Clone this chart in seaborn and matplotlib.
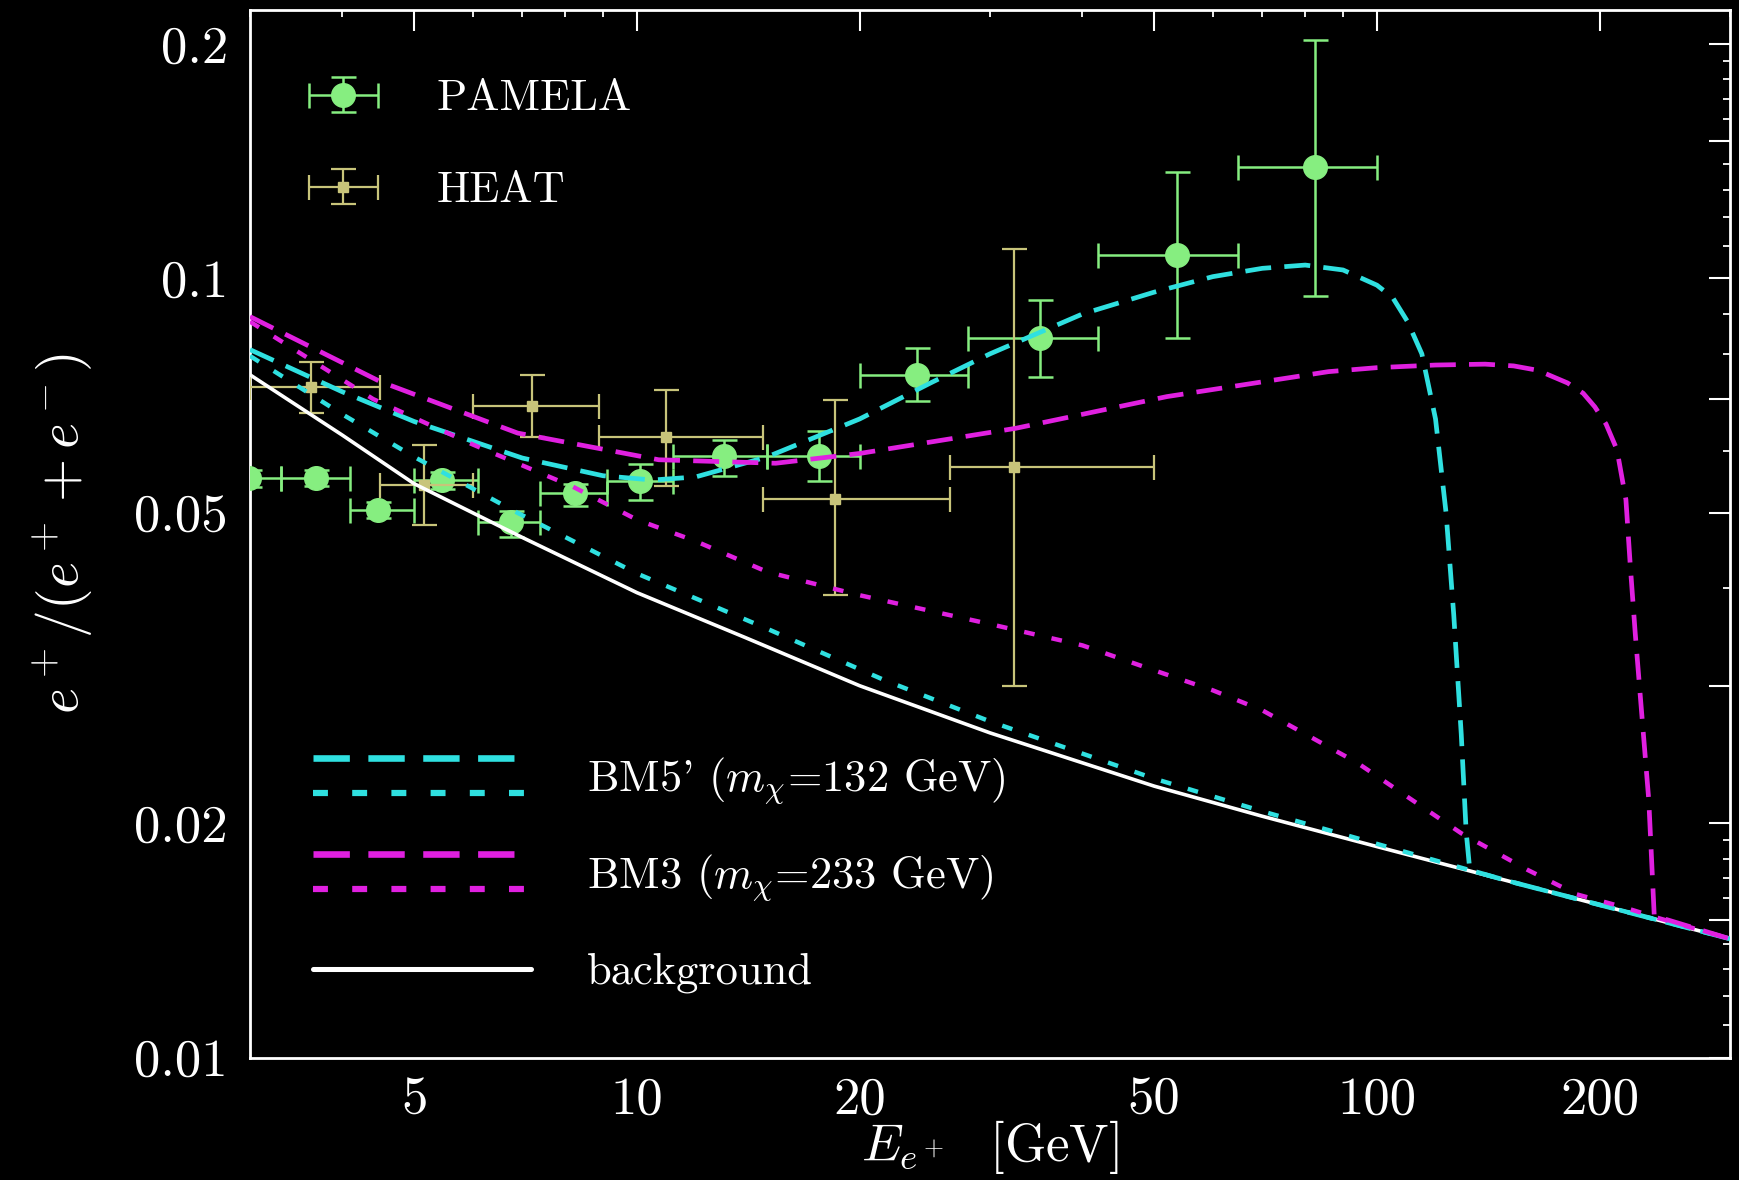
import numpy as np
import pandas as pd
import matplotlib
matplotlib.use("Agg")
import matplotlib.pyplot as plt
import seaborn as sns
from matplotlib.lines import Line2D
from matplotlib.legend_handler import HandlerBase, HandlerErrorbar
from matplotlib.container import ErrorbarContainer
from matplotlib.ticker import NullFormatter

# ---------------- data ----------------
pamela_E = [2.99, 3.68, 4.47, 5.45, 6.76, 8.25, 10.1, 13.1, 17.6, 23.9, 35.0, 53.6, 82.4]
pamela_E_lo = [2.7, 3.3, 4.1, 5.0, 6.1, 7.4, 9.1, 11.2, 15.0, 20.0, 28.0, 42.0, 65.0]
pamela_E_hi = [3.3, 4.1, 5.0, 6.1, 7.4, 9.1, 11.2, 15.0, 20.0, 28.0, 42.0, 65.0, 100.0]
pamela_frac = [0.0554, 0.0554, 0.0505, 0.0551, 0.0486, 0.0530, 0.0549, 0.0592, 0.0592, 0.0752, 0.0838, 0.1070, 0.1390]
pamela_lo = [0.0540, 0.0541, 0.0493, 0.0537, 0.0466, 0.0510, 0.0519, 0.0557, 0.0550, 0.0695, 0.0747, 0.0838, 0.0949]
pamela_hi = [0.0568, 0.0567, 0.0517, 0.0565, 0.0503, 0.0545, 0.0578, 0.0621, 0.0637, 0.0815, 0.0938, 0.1370, 0.2025]

heat_E = [3.63, 5.15, 7.22, 10.96, 18.5, 32.3]
heat_E_lo = [3.0, 4.5, 6.0, 8.9, 14.8, 26.5]
heat_E_hi = [4.5, 6.0, 8.9, 14.8, 26.5, 50.0]
heat_frac = [0.0726, 0.0543, 0.0685, 0.0625, 0.0521, 0.0572]
heat_lo = [0.0671, 0.0482, 0.0626, 0.0541, 0.0392, 0.0300]
heat_hi = [0.0782, 0.0611, 0.0751, 0.0719, 0.0699, 0.1090]

bkg_E = [3, 4, 5, 7, 10, 14, 20, 30, 50, 70, 100, 150, 200, 300]
bkg_frac = [0.0752, 0.0629, 0.0545, 0.0465, 0.0395, 0.0346, 0.0300, 0.0261, 0.0223, 0.0204,
            0.01865, 0.01686, 0.0157, 0.0142]

bm5_long_E = [3, 4, 5, 7, 9, 10.5, 12, 15, 20, 25, 30, 40, 50, 60, 70, 80, 90, 100, 105, 110,
              115, 120, 124, 127, 130, 132, 133.5, 150, 200, 300]
bm5_long_frac = [0.0810, 0.0715, 0.0655, 0.0588, 0.0558, 0.0551, 0.0556, 0.0590, 0.0660, 0.0735,
                 0.0800, 0.0900, 0.0960, 0.1005, 0.1030, 0.1040, 0.1025, 0.0980, 0.0945, 0.0880,
                 0.0800, 0.0660, 0.0500, 0.0370, 0.0260, 0.0195, 0.0174, 0.01686, 0.0157, 0.0142]

bm5_short_E = [3, 4, 5, 6.9, 10, 15, 21.6, 30, 50, 70, 100, 150, 200, 300]
bm5_short_frac = [0.0795, 0.0669, 0.0590, 0.0500, 0.0418, 0.0355, 0.0305, 0.0270, 0.0228, 0.0207,
                  0.0188, 0.01686, 0.0157, 0.0142]

bm3_long_E = [3, 4.5, 6.9, 10.7, 15.4, 20, 32.5, 52, 86, 100, 120, 140, 153, 165, 181, 190, 197,
              204, 211, 217, 220, 223.4, 227, 233, 237, 300]
bm3_long_frac = [0.0893, 0.0737, 0.0633, 0.0585, 0.0579, 0.0596, 0.0642, 0.0705, 0.0759, 0.0768,
                 0.0774, 0.0776, 0.0772, 0.0762, 0.0734, 0.0712, 0.0684, 0.0650, 0.0603, 0.0520,
                 0.0427, 0.0350, 0.0290, 0.0214, 0.0152, 0.0142]

bm3_short_E = [3, 4.4, 6, 8.2, 10, 12, 15, 20, 30, 40, 50, 60, 70, 94, 110, 130, 160, 186, 215, 240, 300]
bm3_short_frac = [0.0880, 0.0700, 0.0612, 0.0540, 0.0490, 0.0460, 0.0420, 0.0392, 0.0360, 0.0338,
                  0.0314, 0.0296, 0.0279, 0.0239, 0.0216, 0.0194, 0.0174, 0.0162, 0.0156, 0.0151, 0.0142]

x_major = [5, 10, 20, 50, 100, 200]
x_major_labels = ["5", "10", "20", "50", "100", "200"]
x_minor = [3, 4, 6, 7, 8, 9, 30, 40, 60, 70, 80, 90, 300]
y_major = [0.01, 0.015, 0.02, 0.03, 0.05, 0.07, 0.1, 0.15, 0.2]
y_major_labels = ["0.01", "", "0.02", "", "0.05", "", "0.1", "", "0.2"]
y_minor = [0.011, 0.012, 0.013, 0.014, 0.016, 0.017, 0.018, 0.019, 0.04, 0.06, 0.08, 0.09,
           0.11, 0.12, 0.13, 0.14, 0.16, 0.17, 0.18, 0.19]

bm5_label = r"BM5' ($m_\chi$=132 GeV)"
bm3_label = r"BM3 ($m_\chi$=233 GeV)"
bkg_label = "background"

# ---------------- style ----------------
sns.set_theme(style="dark")
plt.rcParams.update({
    "figure.facecolor": "black", "axes.facecolor": "black", "savefig.facecolor": "black",
    "axes.edgecolor": "white", "text.color": "white", "axes.labelcolor": "white",
    "xtick.color": "white", "ytick.color": "white", "axes.grid": False,
    "mathtext.fontset": "cm", "axes.unicode_minus": False,
})
plt.rcParams["font.family"] = ["cmr10", "DejaVu Serif"]

GREEN = "#86ee80"
KHAKI = "#c8c47a"
CYAN = "#2fe0e0"
MAGENTA = "#e020e0"

fig = plt.figure(figsize=(17.4, 11.8), dpi=100)
ax = fig.add_axes([250 / 1740, 1 - 1057.5 / 1180, 1480 / 1740, 1047.5 / 1180])
ax.set_xscale("log")
ax.set_yscale("log")

# data points
pE = np.array(pamela_E); pf = np.array(pamela_frac)
pam = ax.errorbar(pE, pf,
                  xerr=[pE - np.array(pamela_E_lo), np.array(pamela_E_hi) - pE],
                  yerr=[pf - np.array(pamela_lo), np.array(pamela_hi) - pf],
                  fmt="o", color=GREEN, ms=17, elinewidth=1.8, capsize=9, capthick=1.8,
                  zorder=3)
hE = np.array(heat_E); hf = np.array(heat_frac)
heat = ax.errorbar(hE, hf,
                   xerr=[hE - np.array(heat_E_lo), np.array(heat_E_hi) - hE],
                   yerr=[hf - np.array(heat_lo), np.array(heat_hi) - hf],
                   fmt="s", color=KHAKI, ms=7, elinewidth=1.6, capsize=9, capthick=1.6,
                   zorder=4)

# model curves
DASH = (0, (5.5, 2.8))
DOT = (0, (2.4, 3.9))
sns.lineplot(x=bkg_E, y=bkg_frac, ax=ax, color="white", lw=2.6, zorder=5, estimator=None)
l_bg = ax.get_lines()[-1]
sns.lineplot(x=bm5_short_E, y=bm5_short_frac, ax=ax, color=CYAN, lw=3.2, linestyle=DOT,
             zorder=6, estimator=None)
l_c2 = ax.get_lines()[-1]
sns.lineplot(x=bm5_long_E, y=bm5_long_frac, ax=ax, color=CYAN, lw=3.4, linestyle=DASH,
             zorder=6, estimator=None)
l_c1 = ax.get_lines()[-1]
sns.lineplot(x=bm3_short_E, y=bm3_short_frac, ax=ax, color=MAGENTA, lw=3.2, linestyle=DOT,
             zorder=7, estimator=None)
l_m2 = ax.get_lines()[-1]
sns.lineplot(x=bm3_long_E, y=bm3_long_frac, ax=ax, color=MAGENTA, lw=3.4, linestyle=DASH,
             zorder=7, estimator=None)
l_m1 = ax.get_lines()[-1]

ax.set_xlim(3, 300)
ax.set_ylim(0.01, 0.221)

# ticks
ax.set_xticks(x_major, labels=x_major_labels)
ax.set_xticks(x_minor, minor=True)
ax.set_yticks(y_major, labels=y_major_labels)
ax.set_yticks(y_minor, minor=True)
ax.xaxis.set_minor_formatter(NullFormatter())
ax.yaxis.set_minor_formatter(NullFormatter())
ax.tick_params(which="both", direction="in", top=True, right=True, colors="white")
ax.tick_params(which="major", length=15, width=1.5, labelsize=38)
ax.tick_params(which="minor", length=5, width=1.3)
ax.tick_params(axis="x", which="major", pad=14)
ax.tick_params(axis="y", which="major", pad=16)
for s in ax.spines.values():
    s.set_color("white")
    s.set_linewidth(2)

ax.set_xlabel(r"$E_{e^+}$  [GeV]", fontsize=38)
ax.xaxis.set_label_coords(0.5, -0.058)
ax.set_ylabel(r"$e^+/(e^+ + e^-)$", fontsize=40)
ax.yaxis.set_label_coords(-0.105, 0.5)


# legends
class HandlerStack(HandlerBase):
    def __init__(self, sep, lwscale=1.4, **kw):
        super().__init__(**kw)
        self.sep = sep
        self.lwscale = lwscale

    def create_artists(self, legend, orig_handle, xdescent, ydescent, width, height,
                       fontsize, trans):
        arts = []
        n = len(orig_handle)
        yc = 0.34 * fontsize
        for i, src in enumerate(orig_handle):
            y = yc + self.sep * ((n - 1) / 2 - i)
            ln = Line2D([-xdescent, -xdescent + width], [y, y])
            self.update_prop(ln, src, legend)
            ln.set_linewidth(src.get_linewidth() * self.lwscale)
            ln.set_transform(trans)
            arts.append(ln)
        return arts


leg1 = ax.legend(handles=[pam, heat], labels=["PAMELA", "HEAT"], loc="upper left",
                 bbox_to_anchor=(0.0331, 0.934), borderpad=0, borderaxespad=0,
                 frameon=False, fontsize=32, handlelength=2.0, handletextpad=1.09,
                 labelspacing=1.17, numpoints=1,
                 handler_map={ErrorbarContainer: HandlerErrorbar(xerr_size=0.77, yerr_size=0.39)})
ax.add_artist(leg1)

leg2 = ax.legend(handles=[(l_c1, l_c2), (l_m1, l_m2), (l_bg,)],
                 labels=[bm5_label, bm3_label, bkg_label], loc="upper left",
                 bbox_to_anchor=(0.0426, 0.2938), borderpad=0, borderaxespad=0,
                 frameon=False, fontsize=32, handlelength=4.9, handletextpad=1.27,
                 handleheight=1.4, labelspacing=0.92,
                 handler_map={tuple: HandlerStack(sep=25.2)})

fig.savefig("out.png", dpi=100, facecolor="black")
